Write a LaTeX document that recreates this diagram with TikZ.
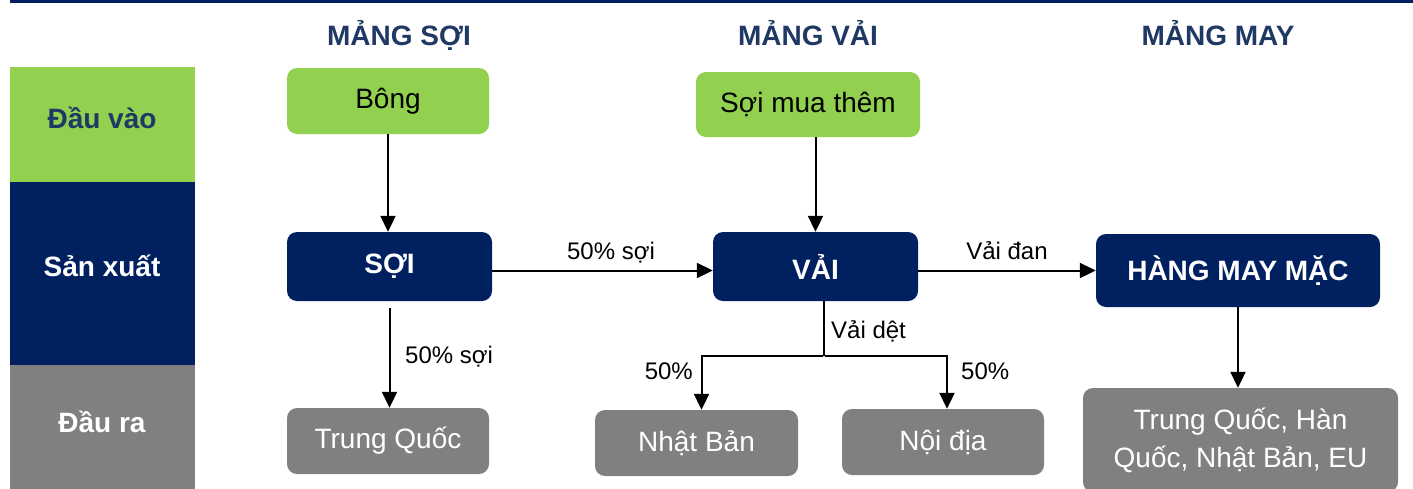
\documentclass[tikz,border=0pt]{standalone}
\usepackage{fontspec}
\setmainfont{Liberation Sans}
\usetikzlibrary{arrows.meta}

\definecolor{navy}{HTML}{002060}
\definecolor{leaf}{HTML}{92D050}
\definecolor{ash}{HTML}{808080}
\definecolor{ink}{HTML}{1F3864}

\tikzset{
  box/.style={rounded corners=10pt, inner sep=0pt, font=\fontsize{28}{38}\selectfont},
  inbox/.style={box, fill=leaf, text=black},
  prodbox/.style={box, fill=navy, text=white, font=\fontsize{28}{38}\selectfont\bfseries},
  outbox/.style={box, fill=ash, text=white},
  flow/.style={line width=2pt, -{Triangle[length=16pt,width=15pt]}},
  tag/.style={font=\fontsize{24}{28}\selectfont, inner sep=0pt},
  head/.style={text=ink, font=\fontsize{28}{34}\selectfont\bfseries, anchor=base},
  rowname/.style={font=\fontsize{28}{34}\selectfont\bfseries, anchor=base},
}

\begin{document}
\begin{tikzpicture}[x=1pt,y=-1pt]
  \useasboundingbox (0,0) rectangle (1413,488);
  \clip (0,0) rectangle (1413,488);

  % top rule and row bands
  \fill[navy] (10,0) rectangle (1413,3);
  \fill[leaf] (10,67) rectangle (195,182);
  \fill[navy] (10,182) rectangle (195,365);
  \fill[ash] (10,365) rectangle (195,492);
  \node[rowname, text=ink] (rin) at (102,128) {Đầu vào};
  \node[rowname, text=white] (rmake) at (102,276) {Sản xuất};
  \node[rowname, text=white] (rout) at (102,432) {Đầu ra};

  % column heads
  \node[head] (hsoi) at (399,45) {MẢNG SỢI};
  \node[head] (hvai) at (808,45) {MẢNG VẢI};
  \node[head] (hmay) at (1218,45) {MẢNG MAY};

  % inputs
  \node[inbox, minimum width=202pt, minimum height=66pt] (bong) at (388,101) {Bông};
  \node[inbox, minimum width=224pt, minimum height=65pt] (mua) at (808,104.5) {Sợi mua thêm};

  % production
  \node[prodbox, minimum width=205pt, minimum height=69pt] (soi) at (389.5,266.5) {SỢI};
  \node[prodbox, minimum width=205pt, minimum height=69pt] (vai) at (815.5,266.5) {VẢI};
  \node[prodbox, minimum width=284pt, minimum height=73pt] (hang) at (1238,270.5) {HÀNG MAY MẶC};

  % outputs
  \node[outbox, minimum width=202pt, minimum height=66pt] (tq) at (388,441) {Trung Quốc};
  \node[outbox, minimum width=203pt, minimum height=66pt] (nhat) at (696.5,443) {Nhật Bản};
  \node[outbox, minimum width=202pt, minimum height=66pt] (noi) at (943,442) {Nội địa};
  \node[outbox, minimum width=315pt, minimum height=104pt, align=center] (xk) at (1240.5,440)
    {Trung Quốc, Hàn\\Quốc, Nhật Bản, EU};

  % flows
  \draw[flow] (bong.south) -- (bong.south |- soi.north);
  \draw[flow] ([yshift=-7pt]soi.south) -- (soi.south |- tq.north);
  \draw[flow] (vai.north |- mua.south) -- (vai.north);
  \draw[flow] ([yshift=-4pt]soi.east) -- ([yshift=-4pt]vai.west);
  \draw[flow] ([yshift=-4pt]vai.east) -- ([yshift=-4pt]vai.east -| hang.west);
  \draw[flow] (hang.south) -- (hang.south |- xk.north);
  \coordinate (split) at (824,356);
  \draw[line width=2pt] (split |- vai.south) -- (split);
  \draw[flow] ([xshift=-1pt]split) -| ([xshift=5pt]nhat.north);
  \draw[flow] ([xshift=1pt]split) -| ([xshift=4pt]noi.north);

  % flow labels
  \node[tag, anchor=base west] (lsoi1) at (405,363) {50\% sợi};
  \node[tag, anchor=base] (lsoi2) at (611,259) {50\% sợi};
  \node[tag, anchor=base] (ldan) at (1007,259) {Vải đan};
  \node[tag, anchor=base west] (ldet) at (831,338) {Vải dệt};
  \node[tag, anchor=base east] (lnhat) at (693,379) {50\%};
  \node[tag, anchor=base west] (lnoi) at (961,379) {50\%};
\end{tikzpicture}
\end{document}
